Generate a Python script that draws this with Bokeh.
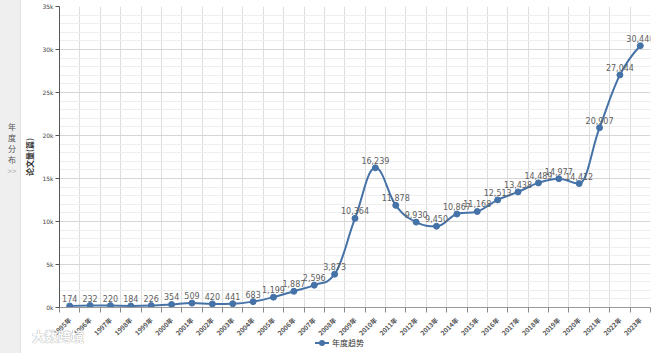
from bokeh.plotting import figure
from bokeh.models import Range1d, FixedTicker, Div, ColumnDataSource
from bokeh.layouts import row
from bokeh.core.properties import value
from bokeh.embed import file_html
from bokeh.resources import INLINE

years = list(range(1995, 2024))
year_labels = [f"{y}年" for y in years]
counts = [174, 232, 220, 184, 226, 354, 509, 420, 441, 683, 1199, 1887, 2596, 3873,
          10364, 16239, 11878, 9930, 9450, 10867, 11168, 12513, 13438, 14489, 14977,
          14412, 20907, 27044, 30440]
y_ticks = [0, 5000, 10000, 15000, 20000, 25000, 30000, 35000]
y_tick_labels = ["0k", "5k", "10k", "15k", "20k", "25k", "30k", "35k"]
series_name = "年度趋势"
y_title = "论文量(篇)"
side_title = ["年", "度", "分", "布"]

LINE = "#4572A7"
CJK = "Noto Sans CJK SC"

n = len(counts)
xs = list(range(n))

# spline control points (Highcharts-style smoothing)
def spline_controls(x, y):
    sm, den = 1.5, 2.5
    lc = [None] * len(x)
    rc = [None] * len(x)
    for i in range(len(x)):
        if 0 < i < len(x) - 1:
            px, py = x[i], y[i]
            lx, ly = x[i - 1], y[i - 1]
            nx, ny = x[i + 1], y[i + 1]
            lcx = (sm * px + lx) / den
            lcy = (sm * py + ly) / den
            rcx = (sm * px + nx) / den
            rcy = (sm * py + ny) / den
            if rcx != lcx:
                corr = ((rcy - lcy) * (rcx - px)) / (rcx - lcx) + py - rcy
                lcy += corr
                rcy += corr
            if lcy > ly and lcy > py:
                lcy = max(ly, py)
                rcy = 2 * py - lcy
            elif lcy < ly and lcy < py:
                lcy = min(ly, py)
                rcy = 2 * py - lcy
            if rcy > ny and rcy > py:
                rcy = max(ny, py)
                lcy = 2 * py - rcy
            elif rcy < ny and rcy < py:
                rcy = min(ny, py)
                lcy = 2 * py - rcy
            lc[i] = (lcx, lcy)
            rc[i] = (rcx, rcy)
        else:
            lc[i] = (x[i], y[i])
            rc[i] = (x[i], y[i])
    return lc, rc

lc, rc = spline_controls(xs, counts)
bz = dict(x0=xs[:-1], y0=counts[:-1], x1=xs[1:], y1=counts[1:],
          cx0=[rc[i][0] for i in range(n - 1)], cy0=[rc[i][1] for i in range(n - 1)],
          cx1=[lc[i + 1][0] for i in range(n - 1)], cy1=[lc[i + 1][1] for i in range(n - 1)])

p = figure(width=632, height=353, output_backend="svg", toolbar_location=None,
           x_range=Range1d(-0.5, n - 0.5), y_range=Range1d(0, 35000),
           min_border_left=36, min_border_right=3, min_border_top=6, min_border_bottom=46)
p.outline_line_color = None
p.background_fill_color = "white"
p.border_fill_color = "white"

# axes
p.xaxis.ticker = FixedTicker(ticks=xs, minor_ticks=[i - 0.5 for i in range(n + 1)])
p.xaxis.major_label_overrides = {i: year_labels[i] for i in range(n)}
p.xaxis.major_tick_out = 0
p.xaxis.major_tick_in = 0
p.xaxis.minor_tick_out = 5
p.xaxis.minor_tick_in = 0
p.xaxis.minor_tick_line_color = "#888888"
p.xaxis.axis_line_color = "#999999"
p.xaxis.major_label_orientation = 0.785
p.xaxis.major_label_text_font = CJK
p.xaxis.major_label_text_font_size = "6.5px"
p.xaxis.major_label_text_font_style = "bold"
p.xaxis.major_label_text_color = "#555555"
p.xaxis.major_label_standoff = 6

p.yaxis.ticker = FixedTicker(ticks=y_ticks, minor_ticks=list(range(0, 35001, 1000)))
p.yaxis.major_label_overrides = {t: l for t, l in zip(y_ticks, y_tick_labels)}
p.yaxis.major_label_text_font = "DejaVu Sans"
p.yaxis.major_label_text_font_size = "6px"
p.yaxis.major_label_text_color = "#444444"
p.yaxis.axis_line_color = "#555555"
p.yaxis.major_tick_line_color = "#555555"
p.yaxis.major_tick_out = 4
p.yaxis.major_tick_in = 0
p.yaxis.minor_tick_out = 0
p.yaxis.minor_tick_in = 0
p.yaxis.major_label_standoff = 2
p.yaxis.axis_label = y_title
p.yaxis.axis_label_text_font = CJK
p.yaxis.axis_label_text_font_size = "8px"
p.yaxis.axis_label_text_font_style = "bold"
p.yaxis.axis_label_text_color = "#333333"
p.yaxis.axis_label_standoff = 4

# grids
p.xgrid.ticker = FixedTicker(ticks=[i - 0.5 for i in range(n + 1)])
p.xgrid.grid_line_color = "#dddddd"
p.ygrid.grid_line_color = "#d6d6d6"
p.ygrid.minor_grid_line_color = "#eeeeee"

# series
p.bezier(source=ColumnDataSource(bz), x0="x0", y0="y0", x1="x1", y1="y1",
         cx0="cx0", cy0="cy0", cx1="cx1", cy1="cy1", line_color=LINE, line_width=2)
p.scatter(xs, counts, size=6, marker="circle", fill_color=LINE, line_color=LINE)

p.text(x=xs, y=counts, text=[f"{c:,}" for c in counts], text_align="center",
       text_baseline="bottom", y_offset=-4, text_font=value("DejaVu Sans"),
       text_font_size="8px", text_color="#606060")

# left side panel (with legend and watermark overlays)
legend_html = (
    '<div style="position:absolute;top:337px;left:315px;white-space:nowrap;'
    'display:flex;align-items:center;font-family:\'Noto Sans CJK SC\';'
    'font-size:8px;color:#333;">'
    f'<svg width="14" height="10"><line x1="0" y1="5" x2="14" y2="5" '
    f'stroke="{LINE}" stroke-width="2"/><circle cx="7" cy="5" r="3" fill="{LINE}"/></svg>'
    f'<span style="margin-left:3px">{series_name}</span></div>'
)
side_html = (
    '<div style="position:absolute;top:121px;left:7px;width:10px;'
    'font-family:\'Noto Sans CJK SC\';font-size:8px;line-height:11px;'
    'color:#555;text-align:center;">' + "<br>".join(side_title) +
    '<br><span style="color:#aaa">&gt;&gt;</span></div>'
)
wm_html = ('<div style="position:absolute;top:327px;left:32px;width:100px;'
           'white-space:nowrap;font-family:\'Noto Sans CJK SC\';font-size:13px;'
           'font-weight:bold;color:#ffffff;opacity:0.85;'
           'text-shadow:0 0 1px #999,0 0 1px #999;">大数跨境</div>')

side = Div(text=side_html + wm_html + legend_html,
           width=21, height=353, margin=0,
           styles={"background-color": "#efefef", "border-right": "1px solid #e2e2e2",
                   "overflow": "visible", "z-index": "10"})

layout = row(side, p, spacing=0)
open("out.html", "w").write(file_html(layout, INLINE))
